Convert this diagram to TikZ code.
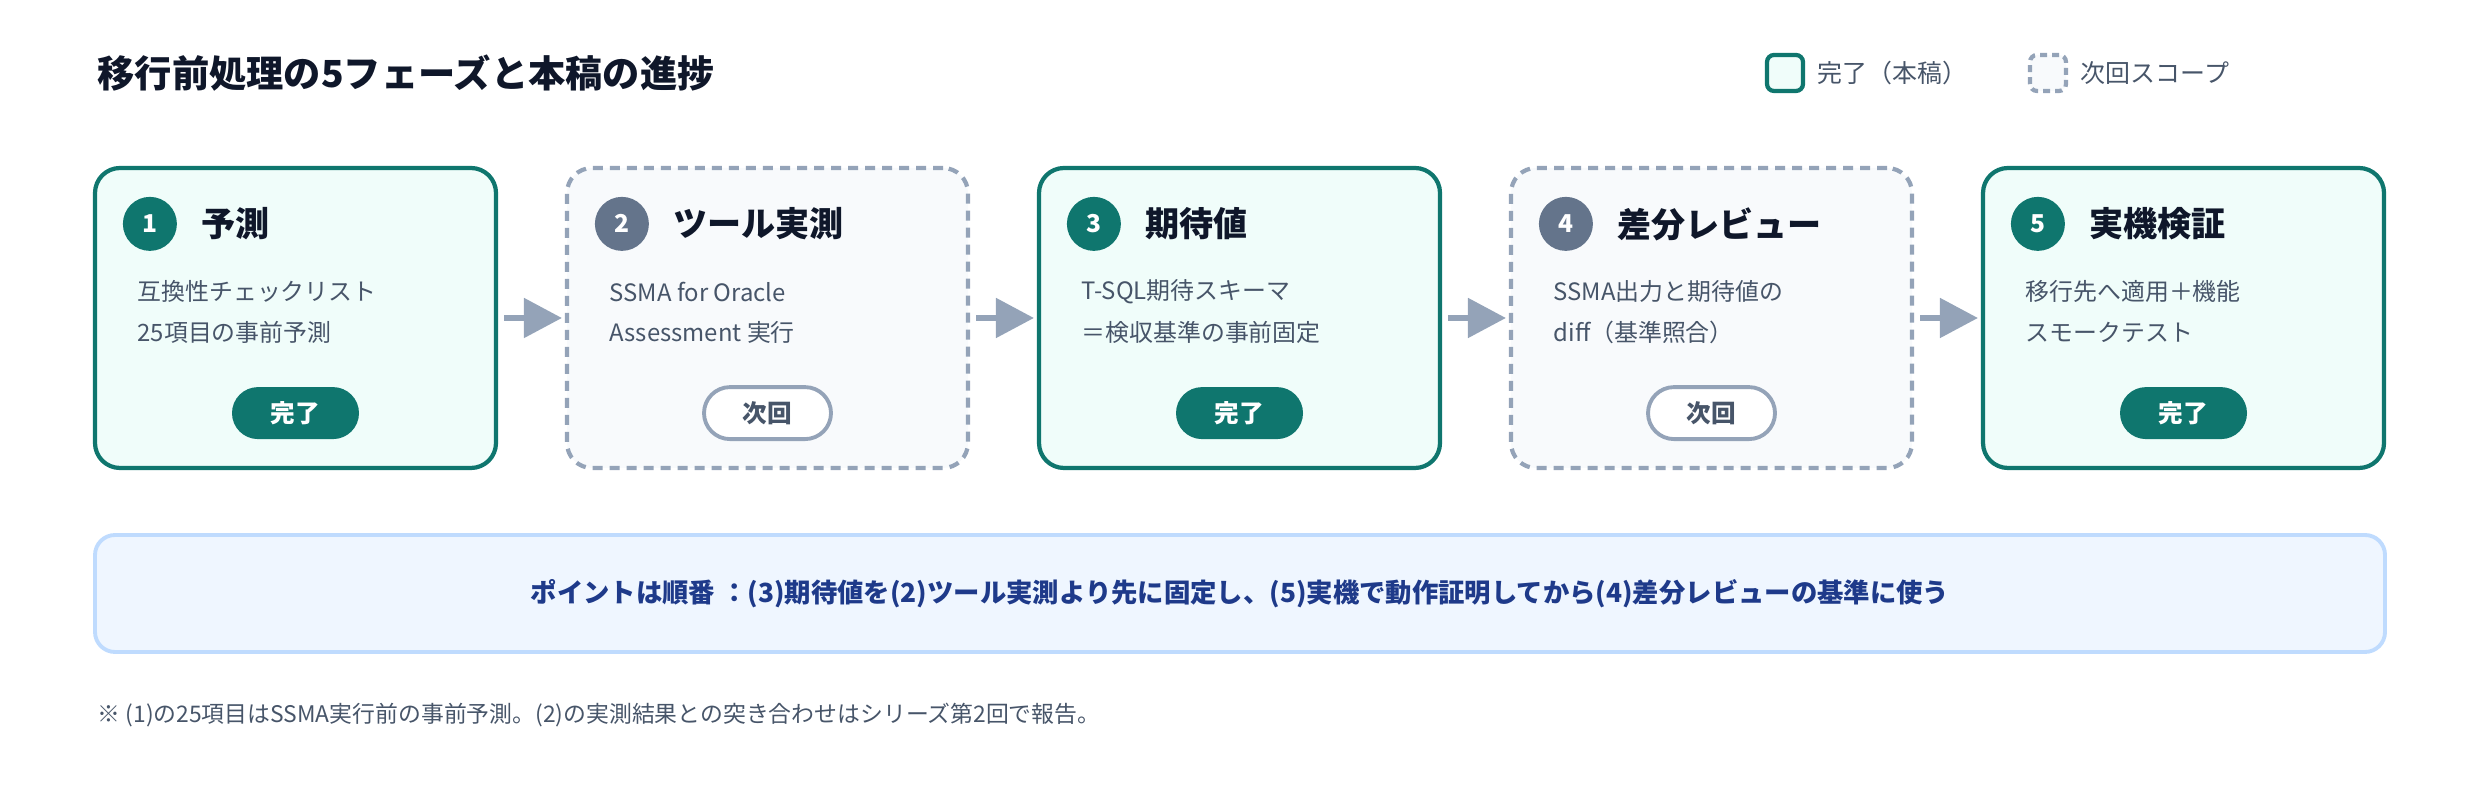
\documentclass[tikz,border=0pt]{standalone}
\usepackage{fontspec}
\setmainfont{Noto Sans CJK JP}
\definecolor{phteal}{RGB}{15,118,110}
\definecolor{phmint}{RGB}{240,253,250}
\definecolor{phslate}{RGB}{148,163,184}
\definecolor{phslatedark}{RGB}{100,116,139}
\definecolor{phsnow}{RGB}{248,250,252}
\definecolor{phink}{RGB}{15,23,42}
\definecolor{phtext}{RGB}{71,85,105}
\definecolor{phblue}{RGB}{30,58,138}
\definecolor{phsky}{RGB}{239,246,255}
\definecolor{phskyline}{RGB}{191,219,254}
\usetikzlibrary{arrows.meta,positioning,calc}

\begin{document}
\begin{tikzpicture}[
  phase/.style={line width=1.2pt,rounded corners=0.25cm,minimum width=4.01cm,minimum height=3cm},
  done/.style={phase,draw=phteal,fill=phmint},
  next/.style={phase,draw=phslate,fill=phsnow,dash pattern=on 0.1cm off 0.07cm},
  dot/.style={circle,minimum size=0.54cm,inner sep=0,text=white,font=\fontsize{7}{8}\selectfont\bfseries},
  dotdone/.style={dot,fill=phteal},
  dotnext/.style={dot,fill=phslatedark},
  pill/.style={rounded corners=0.26cm,minimum width=1.27cm,minimum height=0.52cm,inner sep=0,font=\fontsize{7}{8}\selectfont\bfseries},
  pilldone/.style={pill,fill=phteal,text=white},
  pillnext/.style={pill,fill=white,draw=phslate,line width=1.1pt,text=phtext},
  body/.style={anchor=west,inner sep=0,text=phtext,font=\fontsize{6.8}{8}\selectfont},
  flow/.style={-{Triangle[length=0.38cm,width=0.39cm]},phslate,line width=1.5pt,shorten <=0.06cm,shorten >=0.03cm}
]
  \useasboundingbox (0,0) rectangle (24.8,8);
  \node[anchor=west,inner sep=0,text=phink,font=\fontsize{10.6}{12}\selectfont\bfseries] (title) at (0.97,7.27) {移行前処理の5フェーズと本稿の進捗};
  \node[draw=phteal,fill=phmint,line width=1.2pt,rounded corners=0.07cm,minimum size=0.36cm,inner sep=0] (legdone) at (17.85,7.27) {};
  \node[right=0.12cm of legdone,inner sep=0,text=phtext,font=\fontsize{7.1}{8}\selectfont] (legdonetxt) {完了（本稿）};
  \node[draw=phslate,fill=phsnow,line width=1.2pt,dash pattern=on 0.07cm off 0.05cm,rounded corners=0.07cm,minimum size=0.36cm,inner sep=0] (legnext) at (20.48,7.27) {};
  \node[right=0.12cm of legnext,inner sep=0,text=phtext,font=\fontsize{7.1}{8}\selectfont] (legnexttxt) {次回スコープ};
  \foreach \i/\st/\dt/\pl/\ttl/\la/\lb/\tag in {
    1/done/dotdone/pilldone/予測/互換性チェックリスト/25項目の事前予測/完了,
    2/next/dotnext/pillnext/ツール実測/SSMA for Oracle/Assessment 実行/次回,
    3/done/dotdone/pilldone/期待値/T-SQL期待スキーマ/＝検収基準の事前固定/完了,
    4/next/dotnext/pillnext/差分レビュー/SSMA出力と期待値の/diff（基準照合）/次回,
    5/done/dotdone/pilldone/実機検証/移行先へ適用＋機能/スモークテスト/完了}{
    \node[\st] (box\i) at ({2.955+4.72*(\i-1)},4.82) {};
    \node[\dt] (num\i) at ($(box\i.north west)+(0.57,-0.58)$) {\i};
    \node[right=0.23cm of num\i,inner sep=0,text=phink,font=\fontsize{9.7}{11}\selectfont\bfseries] (ttl\i) {\ttl};
    \node[body] (la\i) at ($(box\i.north west)+(0.44,-1.26)$) {\la};
    \node[body] (lb\i) at ($(box\i.north west)+(0.44,-1.67)$) {\lb};
    \node[\pl] (tag\i) at ($(box\i.south)+(0,0.57)$) {\tag};
  }
  \foreach \i [evaluate=\i as \j using int(\i+1)] in {1,...,4}
    \draw[flow] (box\i.east) -- (box\j.west);
  \node[draw=phskyline,fill=phsky,line width=1.1pt,rounded corners=0.2cm,minimum width=22.9cm,minimum height=1.17cm,text=phblue,font=\fontsize{7.5}{9}\selectfont\bfseries] (point) at (12.4,2.065) {ポイントは順番 ：(3)期待値を(2)ツール実測より先に固定し、(5)実機で動作証明してから(4)差分レビューの基準に使う};
  \node[anchor=west,inner sep=0,text=phtext,font=\fontsize{6.5}{8}\selectfont] (note) at (0.97,0.85) {※ (1)の25項目はSSMA実行前の事前予測。(2)の実測結果との突き合わせはシリーズ第2回で報告。};
\end{tikzpicture}
\end{document}
